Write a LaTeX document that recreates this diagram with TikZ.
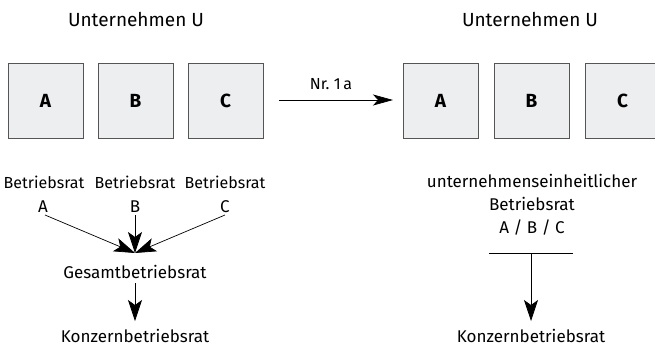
\documentclass[tikz,border=0pt]{standalone}
\usepackage{fontspec}
\setmainfont{Fira Sans}
\usetikzlibrary{arrows.meta}
\definecolor{boxfill}{HTML}{EDEEF0}
\definecolor{boxline}{HTML}{555555}
\begin{document}
\begin{tikzpicture}[x=1pt,y=-1pt,
  unit/.style={draw=boxline, line width=0.9pt, fill=boxfill, minimum width=75pt, minimum height=75pt,
    inner sep=0pt, font=\fontsize{19}{20}\selectfont\bfseries},
  title/.style={font=\fontsize{19}{20}\selectfont, inner sep=0pt},
  small/.style={font=\fontsize{16}{18}\selectfont, inner sep=0pt},
  label/.style={font=\fontsize{17}{23}\selectfont, inner sep=0pt, align=center},
  link/.style={line width=0.7pt, -{Stealth[length=21pt,width=14pt,inset=5pt]}}
]
\useasboundingbox (0,0) rectangle (655,346);

% left company
\node[title] (tl) at (136,20) {Unternehmen U};
\node[unit] (la) at (45.5,100.5) {A};
\node[unit] (lb) at (135.5,100.5) {B};
\node[unit] (lc) at (225.5,100.5) {C};

% right company
\node[title] (tr) at (530,20) {Unternehmen U};
\node[unit] (ra) at (440.5,100.5) {A};
\node[unit] (rb) at (531.5,100.5) {B};
\node[unit] (rc) at (622.5,100.5) {C};

% transition arrow
\coordinate (s) at (279,100);
\coordinate (e) at (393,100);
\draw[line width=0.7pt, -{Stealth[length=20pt,width=11pt,inset=5pt]}] (s) -- (e);
\node[font=\fontsize{16}{18}\selectfont, inner sep=0pt] (nr) at (331,84) {Nr.\ 1\,a};

% works councils of the single plants
\node[small] (bla) at (44,182) {Betriebsrat};
\node[small] (blb) at (135,182) {Betriebsrat};
\node[small] (blc) at (225,182) {Betriebsrat};
\node[label] (ka) at (43,207) {A};
\node[label] (kb) at (135,207) {B};
\node[label] (kc) at (225,207) {C};
\coordinate (meet) at (135,253);
\node[label] (gbr) at (135,272) {Gesamtbetriebsrat};
\node[label, anchor=base] (kbl) at (135,342) {Konzernbetriebsrat};
\coordinate (fa) at (45,215);
\coordinate (fb) at (135,215);
\coordinate (fc) at (225,215);
\coordinate (gs) at (135,283);
\coordinate (ge) at (135,321);

\draw[link] (fa) -- (meet);
\draw[link] (fb) -- (meet);
\draw[link] (fc) -- (meet);
\draw[link] (gs) -- (ge);

% company-wide works council
\node[label] (ub) at (532,205) {unternehmenseinheitlicher\\Betriebsrat\\A / B / C};
\coordinate (hl) at (489,253);
\coordinate (hr) at (573,253);
\coordinate (hm) at (531,253);
\coordinate (he) at (531,321);
\node[label, anchor=base] (kbr) at (531,342) {Konzernbetriebsrat};
\draw[line width=0.7pt] (hl) -- (hr);
\draw[link] (hm) -- (he);
\end{tikzpicture}
\end{document}
